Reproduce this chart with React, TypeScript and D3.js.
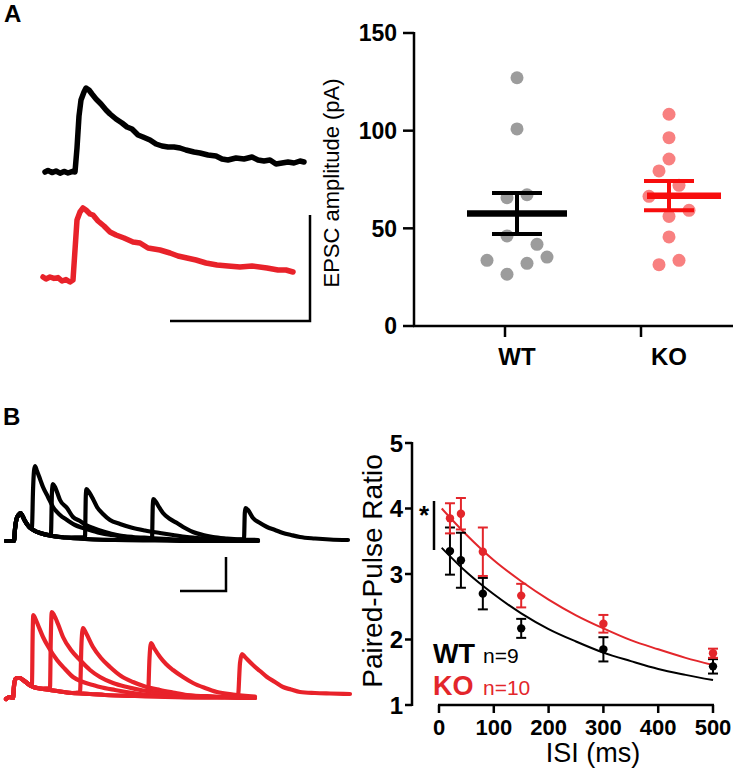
import React from "react";
import * as d3 from "d3";

// ---------------- DATA ----------------
// Panel A: example EPSC traces (time ms, current pA above baseline)
const traceA_WT: [number, number][] = [
  [7.5, 0], [9, 0.8], [11, -0.3], [13, 0.5], [15, -0.6], [17, 0.3], [19, -0.5], [21, 0.2], [22.5, 0],
  [23.5, 12], [24.5, 28], [25.5, 36], [27, 40], [28, 42], [29.5, 41], [31, 39], [33, 36.5], [35.5, 34],
  [38, 31], [40, 29], [43, 26.5], [46, 24.5], [48.5, 22.5], [51, 21.5], [54, 18.5], [56.5, 17.5], [60, 16],
  [63, 14], [66, 13], [69, 12.5], [72, 12.5], [75, 12], [78, 11], [82, 10], [85, 9.5], [89, 8.5], [93, 8],
  [96, 6.5], [99, 6], [103, 7], [107, 6.5], [111, 7.5], [114, 6], [117, 5.5], [120, 6], [123, 4], [126, 4.5],
  [129, 5], [132, 4.5], [135, 5.5], [137, 5],
];
const traceA_KO: [number, number][] = [
  [6.5, 1.5], [8, 0.5], [10, 1.5], [12, 0.8], [14, 1.2], [16, -0.5], [18, 0.2], [20, -1], [21.5, 0],
  [22.5, 15], [23.5, 30], [25, 34], [26.5, 36], [28, 35], [30, 33], [31.5, 32.5], [34, 29.5], [37, 27],
  [40, 24], [43, 22.5], [47, 21], [51.5, 19], [55, 18.5], [59, 16], [65, 15], [70, 13.5], [74, 12],
  [78.5, 11], [83, 10], [88, 8.5], [93.5, 7.5], [99, 7], [105, 6.5], [111, 7], [118.5, 6], [124, 5],
  [128, 5], [131.5, 4],
];
const scaleBarA = { ms: 70, pA: 53 };

// Panel A: EPSC amplitudes (pA)
const groups = ["WT", "KO"];
const ampWT = [127.1, 100.9, 65.7, 67.2, 46.1, 41.8, 33.6, 32.1, 35.3, 26.5];
const ampKO = [108.4, 96.4, 85.5, 79.4, 72.0, 66.4, 56.1, 59.2, 45.6, 31.4, 33.6];
// beeswarm column of each dot
const colWT = [0, 0, -1, 1, -1, 2, -3, 1, 3, -1];
const colKO = [0, 0, 0, -1, 1, -2, 0, 2, 0, -1, 1];
const ampTicks = [0, 50, 100, 150];

// Panel B: paired-pulse traces (time ms, current pA)
const firstPulseWT: [number, number][] = [
  [1, 0], [9, 0], [10, 12], [11.5, 22], [13.5, 26], [15.5, 28], [17.5, 25], [20, 20], [23, 15.5], [26, 12.5],
  [30, 10], [35, 8], [45, 5.5], [60, 3.5], [80, 2], [110, 1], [150, 0.5], [200, 0], [253, 0],
];
const secondWT: [number, number][][] = [
  [[27, 14], [28, 50], [29, 70], [30, 75], [32, 70], [35, 62], [38, 54], [43, 44], [48, 34], [55, 26], [62, 21],
   [70, 16], [78, 13], [88, 10], [95, 8], [110, 5.5], [128, 3], [145, 2], [162, 1], [190, 0.5], [220, 0], [253, 0]],
  [[46, 8], [47, 50], [48, 57], [50, 54], [52, 49], [55, 41], [62, 33], [68, 24], [75, 20], [81, 16], [88, 13],
   [100, 9], [112, 6], [128, 4], [145, 3], [170, 1.5], [200, 0.5], [253, 0]],
  [[80, 4], [80.8, 45], [81.5, 52], [84, 49], [88, 42], [92, 34], [98, 27], [105, 21], [115, 17], [128, 13],
   [140, 10.5], [155, 8], [168, 6], [182, 4], [200, 2.5], [225, 1], [253, 0.5]],
  [[147, 2], [147.8, 36], [148.5, 42], [151, 39], [154, 34], [158, 28], [165, 22], [172, 18], [180, 13],
   [188, 9], [198, 6], [208, 4], [222, 2.5], [235, 1.5], [253, 1]],
  [[239, 2], [239.8, 28], [240.5, 33], [243, 31], [248, 23], [255, 18], [262, 14], [270, 11], [278, 8],
   [286, 6], [295, 4], [310, 2.5], [325, 1.5], [343, 1]],
];
const firstPulseKO: [number, number][] = [
  [1, -1], [5, 1], [8, 0], [9, 12], [10.5, 19], [12, 20], [15, 20], [18, 18], [22, 15], [26, 12],
  [30, 10.5], [35, 9.5], [45, 8], [55, 6.5], [67, 5], [85, 4], [100, 3], [130, 2], [160, 1], [200, 0.5], [250, 0],
];
const secondKO: [number, number][][] = [
  [[27, 13], [27.6, 60], [28.3, 83], [30, 80], [33, 73], [38, 61], [44, 50], [52, 38], [60, 29], [68, 21],
   [78, 16], [88, 13], [95, 11], [110, 8], [128, 5], [145, 3], [162, 1.5], [190, 0.5], [250, 0]],
  [[45, 10], [45.8, 60], [46.8, 86], [49, 83], [53, 74], [58, 61], [66, 48], [75, 38], [85, 28], [95, 21],
   [108, 15], [122, 11], [138, 7.5], [155, 5], [175, 3], [200, 1.5], [225, 0.5], [250, 0]],
  [[75, 6], [76.5, 55], [78, 70], [81, 65], [88, 51], [96, 40], [105, 31], [116, 22], [128, 16], [140, 11.5],
   [155, 8], [168, 5.5], [182, 3], [210, 1.5], [250, 0]],
  [[143, 3], [144.5, 40], [146, 55], [149, 50], [155, 41], [161, 34], [168, 28], [178, 21], [188, 15],
   [200, 10], [212, 6], [228, 3.5], [250, 1.5]],
  [[233, 2], [235, 35], [237, 44], [240, 41], [248, 33], [255, 27], [262, 21], [270, 16], [278, 11],
   [286, 8.5], [295, 6], [310, 5], [325, 4.5], [345, 4]],
];
const scaleBarB = { ms: 46, pA: 34 };

// Panel B: paired-pulse ratio
const isi = [20, 40, 80, 150, 300, 500];
const pprWT = [3.35, 3.21, 2.70, 2.17, 1.85, 1.59];
const semWT = [0.36, 0.42, 0.24, 0.145, 0.185, 0.11];
const pprKO = [3.85, 3.92, 3.34, 2.67, 2.24, 1.79];
const semKO = [0.23, 0.24, 0.37, 0.18, 0.135, 0.07];
const fitISI = [5, 50, 100, 150, 200, 250, 300, 350, 400, 450, 500];
const fitWT = [3.40, 3.03, 2.69, 2.40, 2.16, 1.97, 1.80, 1.67, 1.55, 1.46, 1.38];
const fitKO = [4.00, 3.60, 3.21, 2.89, 2.61, 2.37, 2.17, 1.99, 1.85, 1.72, 1.61];
const isiTicks = [0, 100, 200, 300, 400, 500];
const pprTicks = [1, 2, 3, 4, 5];
const nWT = 9;
const nKO = 10;

// ---------------- STYLE ----------------
const FONT = "'Liberation Sans', Arial, Helvetica, sans-serif";
const RED = "#E8222A";
const RED_PPR = "#E3262B";
const KO_DOT = "#F88080";
const KO_MEAN = "#F70D0D";
const WT_DOT = "#9C9C9C";

function sweep(first: [number, number][], second: [number, number][]) {
  const t0 = second[0][0];
  return first.filter((d) => d[0] < t0).concat(second);
}

export default function App() {
  // ---- Panel A traces
  const xA = d3.scaleLinear().domain([0, 140]).range([30, 310]);
  const yA_WT = d3.scaleLinear().domain([0, 50]).range([172, 72]);
  const yA_KO = d3.scaleLinear().domain([0, 50]).range([280, 180]);
  const lineA = (ys: d3.ScaleLinear<number, number>) =>
    d3.line<[number, number]>().x((d) => xA(d[0])).y((d) => ys(d[1])).curve(d3.curveLinear);
  const sbAx1 = 310, sbAy1 = 321;
  const sbAw = xA(scaleBarA.ms) - xA(0);
  const sbAh = yA_WT(0) - yA_WT(scaleBarA.pA);

  // ---- Panel A scatter
  const yS = d3.scaleLinear().domain([0, 150]).range([326, 33]);
  const xS = d3.scalePoint<string>().domain(groups).range([505, 641]).padding(0);
  const groupCfg: Record<string, any> = {
    WT: { vals: ampWT, cols: colWT, dot: WT_DOT, mean: "#000", dotOff: 12, meanOff: 12, meanHalf: 50 },
    KO: { vals: ampKO, cols: colKO, dot: KO_DOT, mean: KO_MEAN, dotOff: 28, meanOff: 43, meanHalf: 37 },
  };
  const colStep = 10;

  // ---- Panel B traces
  const xB = d3.scaleLinear().domain([0, 345]).range([5, 350]);
  const yB_WT = d3.scaleLinear().domain([0, 100]).range([541, 441]);
  const yB_KO = d3.scaleLinear().domain([0, 100]).range([698, 598]);
  const lineB = (ys: d3.ScaleLinear<number, number>) =>
    d3.line<[number, number]>().x((d) => xB(d[0])).y((d) => ys(d[1])).curve(d3.curveMonotoneX);
  const sbBx1 = 226, sbBy1 = 591;
  const sbBw = xB(scaleBarB.ms) - xB(0);
  const sbBh = yB_WT(0) - yB_WT(scaleBarB.pA);

  // ---- Panel B PPR
  const xP = d3.scaleLinear().domain([0, 500]).range([439, 713]);
  const yP = d3.scaleLinear().domain([1, 5]).range([705, 443]);
  const fitLine = d3.line<number>().x((_, i) => xP(fitISI[i])).y((d) => yP(d)).curve(d3.curveMonotoneX);

  return (
    <svg
      width={739}
      height={774}
      style={{ position: "absolute", left: 0, top: 0, display: "block", background: "#fff" }}
      fontFamily={FONT}
    >
      <rect x={0} y={0} width={739} height={774} fill="#fff" />
      {/* Panel letters */}
      <text x={4} y={22} fontSize={24} fontWeight="bold">A</text>
      <text x={3} y={425} fontSize={24} fontWeight="bold">B</text>

      {/* ---- Panel A traces ---- */}
      <path d={lineA(yA_WT)(traceA_WT) || ""} fill="none" stroke="#000" strokeWidth={5.5} strokeLinejoin="round" strokeLinecap="round" />
      <path d={lineA(yA_KO)(traceA_KO) || ""} fill="none" stroke={RED} strokeWidth={5.5} strokeLinejoin="round" strokeLinecap="round" />
      <path
        d={`M${sbAx1 - sbAw},${sbAy1}H${sbAx1}V${sbAy1 - sbAh}`}
        fill="none" stroke="#000" strokeWidth={2.5}
      />

      {/* ---- Panel A scatter ---- */}
      <g>
        {groups.map((g) => {
          const c = groupCfg[g];
          const cx = xS(g)!;
          const m = d3.mean(c.vals as number[])!;
          const sem = d3.deviation(c.vals as number[])! / Math.sqrt(c.vals.length);
          const ex = cx + c.dotOff;
          return (
            <g key={g}>
              {(c.vals as number[]).map((v, i) => (
                <circle key={i} cx={cx + c.dotOff + c.cols[i] * colStep} cy={yS(v)} r={6.5} fill={c.dot} />
              ))}
              <line x1={cx + c.meanOff - c.meanHalf} x2={cx + c.meanOff + c.meanHalf} y1={yS(m)} y2={yS(m)} stroke={c.mean} strokeWidth={6.5} />
              <line x1={ex} x2={ex} y1={yS(m + sem)} y2={yS(m - sem)} stroke={c.mean} strokeWidth={4} />
              <line x1={ex - 25} x2={ex + 25} y1={yS(m + sem)} y2={yS(m + sem)} stroke={c.mean} strokeWidth={4} />
              <line x1={ex - 25} x2={ex + 25} y1={yS(m - sem)} y2={yS(m - sem)} stroke={c.mean} strokeWidth={4} />
            </g>
          );
        })}
        {/* axes */}
        <line x1={414} x2={414} y1={yS(150) - 1} y2={yS(0)} stroke="#000" strokeWidth={2.5} />
        <line x1={413} x2={733} y1={yS(0)} y2={yS(0)} stroke="#000" strokeWidth={2.5} />
        {ampTicks.map((t) => (
          <g key={t}>
            <line x1={403} x2={414} y1={yS(t)} y2={yS(t)} stroke="#000" strokeWidth={2.5} />
            <text x={397} y={yS(t)} dy="0.36em" textAnchor="end" fontSize={23} fontWeight="bold">{t}</text>
          </g>
        ))}
        {groups.map((g) => (
          <g key={g}>
            <line x1={xS(g)!} x2={xS(g)!} y1={yS(0)} y2={yS(0) + 11} stroke="#000" strokeWidth={2.5} />
            <text x={xS(g)! + groupCfg[g].dotOff} y={365} textAnchor="middle" fontSize={24} fontWeight="bold">{g}</text>
          </g>
        ))}
        <text transform="translate(339,183) rotate(-90)" textAnchor="middle" fontSize={22}>EPSC amplitude (pA)</text>
      </g>

      {/* ---- Panel B traces ---- */}
      {secondWT.map((s, i) => (
        <path key={"bw" + i} d={lineB(yB_WT)(sweep(firstPulseWT, s)) || ""} fill="none" stroke="#000" strokeWidth={4.2} strokeLinejoin="round" strokeLinecap="round" />
      ))}
      {secondKO.map((s, i) => (
        <path key={"bk" + i} d={lineB(yB_KO)(sweep(firstPulseKO, s)) || ""} fill="none" stroke={RED} strokeWidth={4.2} strokeLinejoin="round" strokeLinecap="round" />
      ))}
      <path d={`M${sbBx1 - sbBw},${sbBy1}H${sbBx1}V${sbBy1 - sbBh}`} fill="none" stroke="#000" strokeWidth={2.5} />

      {/* ---- Panel B PPR ---- */}
      <g>
        <path d={fitLine(fitWT) || ""} fill="none" stroke="#000" strokeWidth={2} />
        <path d={fitLine(fitKO) || ""} fill="none" stroke={RED_PPR} strokeWidth={2} />
        {[
          { m: pprWT, s: semWT, col: "#000" },
          { m: pprKO, s: semKO, col: RED_PPR },
        ].map((ser, k) => (
          <g key={k}>
            {isi.map((t, i) => {
              const x = xP(t);
              return (
                <g key={i}>
                  <line x1={x} x2={x} y1={yP(ser.m[i] + ser.s[i])} y2={yP(ser.m[i] - ser.s[i])} stroke={ser.col} strokeWidth={2} />
                  <line x1={x - 5} x2={x + 5} y1={yP(ser.m[i] + ser.s[i])} y2={yP(ser.m[i] + ser.s[i])} stroke={ser.col} strokeWidth={2} />
                  <line x1={x - 5} x2={x + 5} y1={yP(ser.m[i] - ser.s[i])} y2={yP(ser.m[i] - ser.s[i])} stroke={ser.col} strokeWidth={2} />
                  <circle cx={x} cy={yP(ser.m[i])} r={4.2} fill={ser.col} />
                </g>
              );
            })}
          </g>
        ))}
        {/* axes */}
        <line x1={412} x2={412} y1={yP(5) - 1} y2={yP(1) + 1} stroke="#000" strokeWidth={2.5} />
        {pprTicks.map((t) => (
          <g key={t}>
            <line x1={405} x2={412} y1={yP(t)} y2={yP(t)} stroke="#000" strokeWidth={2.5} />
            <text x={403} y={yP(t)} dy="0.36em" textAnchor="end" fontSize={24} fontWeight="bold">{t}</text>
          </g>
        ))}
        <line x1={xP(0) - 1} x2={xP(500) + 1} y1={705} y2={705} stroke="#000" strokeWidth={2.5} />
        {isiTicks.map((t) => (
          <g key={t}>
            <line x1={xP(t)} x2={xP(t)} y1={705} y2={713} stroke="#000" strokeWidth={2.5} />
            <text x={xP(t)} y={735} textAnchor="middle" fontSize={22} fontWeight="bold">{t}</text>
          </g>
        ))}
        <text x={593} y={762} textAnchor="middle" fontSize={27}>ISI (ms)</text>
        <text transform="translate(382,571) rotate(-90)" textAnchor="middle" fontSize={28}>Paired-Pulse Ratio</text>
        {/* significance */}
        <line x1={434} x2={434} y1={501} y2={550} stroke="#000" strokeWidth={2.5} />
        <text x={424} y={524} textAnchor="middle" fontSize={26} fontWeight="bold">*</text>
        {/* legend */}
        <text x={433} y={663} fontSize={27} fontWeight="bold">WT</text>
        <text x={483} y={663} fontSize={21}>{`n=${nWT}`}</text>
        <text x={433} y={695} fontSize={27} fontWeight="bold" fill={RED_PPR}>KO</text>
        <text x={483} y={695} fontSize={21} fill={RED_PPR}>{`n=${nKO}`}</text>
      </g>
    </svg>
  );
}
